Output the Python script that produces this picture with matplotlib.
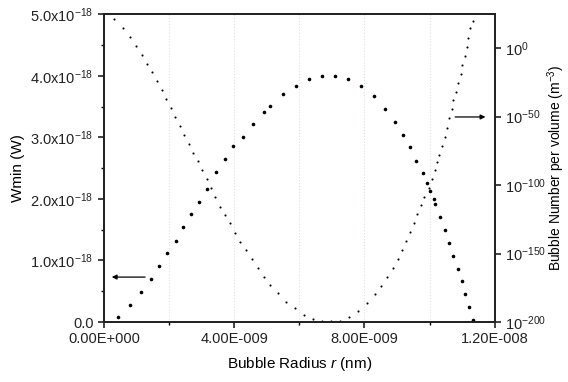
import matplotlib
matplotlib.use('Agg')
import matplotlib.pyplot as plt
import numpy as np

plt.rcParams['font.family'] = ['Liberation Sans', 'DejaVu Sans']
plt.rcParams['mathtext.fontset'] = 'custom'
plt.rcParams['mathtext.rm'] = 'Liberation Sans'
plt.rcParams['mathtext.it'] = 'Liberation Sans:italic'

# Wmin curve (left axis), radius in nm*1e-9 -> m, W in 1e-18 W
r_w = [0.44, 0.80, 1.13, 1.43, 1.70, 1.95, 2.20, 2.42, 2.67, 2.91, 3.16, 3.43,
       3.71, 3.96, 4.27, 4.58, 4.93, 5.11, 5.50, 5.89, 6.29, 6.69, 7.09, 7.49,
       7.90, 8.28, 8.64, 8.93, 9.17, 9.41, 9.59, 9.80, 9.93, 10.02, 10.12, 10.18,
       10.33, 10.47, 10.61, 10.73, 10.87, 10.98, 11.10, 11.22, 11.33]
wmin = [0.086, 0.276, 0.49, 0.70, 0.91, 1.115, 1.32, 1.54, 1.75, 1.95, 2.16, 2.43,
        2.64, 2.86, 3.00, 3.21, 3.41, 3.51, 3.70, 3.84, 3.94, 4.00, 4.00, 3.94,
        3.84, 3.67, 3.46, 3.25, 3.04, 2.84, 2.62, 2.42, 2.26, 2.12, 2.00, 1.92,
        1.70, 1.49, 1.29, 1.08, 0.865, 0.665, 0.45, 0.24, 0.03]

# bubble number curve (right axis), exponent of 10
r_n = [0.316, 0.582, 0.788, 0.981, 1.156, 1.327, 1.480, 1.625, 1.778, 1.910,
       2.054, 2.185, 2.330, 2.461, 2.605, 2.737, 2.881, 3.013, 3.157, 3.289,
       3.402, 3.556, 3.709, 3.884, 4.02, 4.169, 4.352, 4.536, 4.729, 4.926,
       5.109, 5.333, 5.600, 5.87, 6.139, 6.415, 6.70, 6.979, 7.234, 7.519,
       7.807, 8.070, 8.328, 8.521, 8.705, 8.867, 9.021, 9.156, 9.278, 9.389,
       9.511, 9.625, 9.738, 9.830, 9.971, 10.07, 10.16, 10.22, 10.28, 10.37,
       10.46, 10.53, 10.61, 10.69, 10.73, 10.81, 10.88, 10.96, 11.01, 11.10,
       11.14, 11.19, 11.24, 11.32]
n_exp = [20.9, 14.8, 8.2, 1.7, -4.9, -11.5, -17.7, -24.1, -30.7, -37.2,
         -43.8, -50.4, -56.7, -63.5, -69.9, -76.4, -82.7, -89.3, -95.8, -102.4,
         -108.5, -115.8, -121.9, -128.0, -134.7, -141.4, -147.4, -154.0, -160.8, -166.9,
         -173.0, -179.1, -185.2, -190.1, -194.9, -197.8, -198.9, -199.0, -199.0, -196.4,
         -192.0, -186.4, -179.8, -173.5, -166.9, -160.4, -154.0, -147.4, -140.9, -134.5,
         -128.0, -121.4, -114.8, -108.5, -102.4, -95.6, -89.1, -83.2, -78.1, -71.3,
         -64.7, -58.2, -51.3, -44.7, -38.0, -31.9, -25.3, -19.0, -12.4, -5.8,
         0.5, 7.1, 14.4, 19.9]

x_ticks = [0.0, 4e-9, 8e-9, 1.2e-8]
x_labels = ['0.00E+000', '4.00E-009', '8.00E-009', '1.20E-008']
yl_ticks = [0.0, 1e-18, 2e-18, 3e-18, 4e-18, 5e-18]
yl_labels = ['0.0', '1.0x10$^{-18}$', '2.0x10$^{-18}$', '3.0x10$^{-18}$',
             '4.0x10$^{-18}$', '5.0x10$^{-18}$']
yr_exps = [0, -50, -100, -150, -200]

fig = plt.figure(figsize=(5.68, 3.82), dpi=100)
ax = fig.add_axes([0.183, 0.157, 0.688, 0.806])
ax2 = ax.twinx()

rw = np.array(r_w) * 1e-9
rn = np.array(r_n) * 1e-9

for xv in [2e-9, 4e-9, 6e-9, 8e-9, 1e-8]:
    ax.axvline(xv, color='#d5ead5', lw=0.8, ls=':', zorder=0)

ax.plot(rw, np.array(wmin) * 1e-18, ls='none', marker='o', ms=2.6,
        color='black', mew=0)
ax2.plot(rn, 10.0 ** np.array(n_exp), ls='none', marker='o', ms=1.5,
         color='black', mew=0)

ax.set_xlim(0, 1.2e-8)
ax.set_ylim(0, 5e-18)
ax2.set_yscale('log')
ax2.set_ylim(1e-200, 10.0 ** 24.8)

ax.set_xticks(x_ticks)
ax.set_xticklabels(x_labels)
ax.set_xticks([2e-9, 6e-9, 1e-8], minor=True)
ax.set_yticks(yl_ticks)
ax.set_yticklabels(yl_labels)
ax.set_yticks(np.arange(0.5, 5.0, 1.0) * 1e-18, minor=True)

ax2.set_yticks([10.0 ** e for e in yr_exps])
ax2.set_yticklabels(['10$^{%d}$' % e for e in yr_exps])
ax2.yaxis.set_minor_locator(matplotlib.ticker.NullLocator())

for a in (ax, ax2):
    a.tick_params(which='major', direction='out', length=4, width=1.2,
                  labelsize=10.5, colors='#222222')
    a.tick_params(which='minor', direction='out', length=2.5, width=1.0)
    for s in a.spines.values():
        s.set_linewidth(1.3)
        s.set_color('#222222')

ax.set_xlabel('Bubble Radius $r$ (nm)', fontsize=11, labelpad=6)
ax.set_ylabel('Wmin (W)', fontsize=11, labelpad=4)
ax2.set_ylabel('Bubble Number per volume (m$^{-3}$)', fontsize=10)
ax2.yaxis.set_label_coords(1.13, 0.5)

ax.annotate('', xy=(1.55e-10, 0.73e-18), xytext=(1.35e-9, 0.73e-18),
            arrowprops=dict(arrowstyle='-|>', color='black', lw=0.9,
                            mutation_scale=7))
ax.annotate('', xy=(1.18e-8, 3.33e-18), xytext=(1.07e-8, 3.33e-18),
            arrowprops=dict(arrowstyle='-|>', color='black', lw=0.9,
                            mutation_scale=7))

plt.savefig('out.png', dpi=100)
